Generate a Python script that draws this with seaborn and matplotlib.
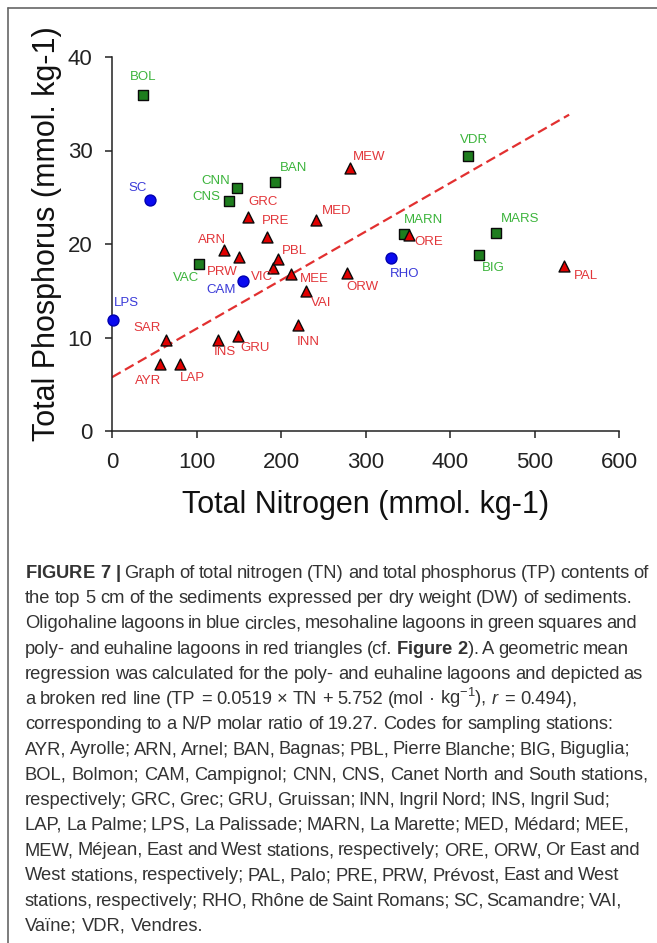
import numpy as np
import pandas as pd
import seaborn as sns
import matplotlib.pyplot as plt
from matplotlib.lines import Line2D

# stations
oligo_names = ['SC', 'LPS', 'CAM', 'RHO']
oligo_tn = [45, 1, 155, 330]
oligo_tp = [24.7, 11.9, 16.0, 18.5]

meso_names = ['BOL', 'CNN', 'CNS', 'BAN', 'VAC', 'VDR', 'MARN', 'MARS', 'BIG']
meso_tn = [37, 148, 138, 193, 103, 421, 345, 454, 434]
meso_tp = [35.9, 26.0, 24.6, 26.6, 17.9, 29.4, 21.1, 21.2, 18.8]

poly_names = ['GRC', 'PRE', 'ARN', 'PRW', 'VIC', 'PBL', 'MEE', 'VAI', 'MED', 'MEW',
              'ORE', 'ORW', 'PAL', 'SAR', 'AYR', 'LAP', 'INS', 'GRU', 'INN']
poly_tn = [161, 183, 133, 150, 190, 196, 212, 230, 242, 282,
           351, 278, 535, 63.5, 57, 80, 126, 149.5, 220]
poly_tp = [22.9, 20.7, 19.4, 18.6, 17.4, 18.4, 16.8, 15.0, 22.6, 28.1,
           21.0, 16.9, 17.6, 9.7, 7.2, 7.2, 9.7, 10.2, 11.3]

# geometric mean regression for poly- and euhaline lagoons
reg_slope = 0.0519
reg_intercept = 5.752
reg_tn = [0, 541]

x_ticks = [0, 100, 200, 300, 400, 500, 600]
y_ticks = [0, 10, 20, 30, 40]

# label offsets in pixels (dx, dy)
label_offsets = {
    'SC': (-12, 12), 'LPS': (14, 17), 'CAM': (-22, -9), 'RHO': (14, -16),
    'BOL': (0, 18), 'CNN': (-21, 7), 'CNS': (-22, 4), 'BAN': (18, 14),
    'VAC': (-13, -14), 'VDR': (6, 16), 'MARN': (20, 14), 'MARS': (24, 14),
    'BIG': (15, -13),
    'GRC': (15, 15), 'PRE': (9, 16), 'ARN': (-12, 10), 'PRW': (-17, -15),
    'VIC': (-11, -9), 'PBL': (17, 8), 'MEE': (23, -5), 'VAI': (15, -12),
    'MED': (20, 9), 'MEW': (19, 11), 'ORE': (20, -7), 'ORW': (16, -14),
    'PAL': (22, -10), 'SAR': (-19, 12), 'AYR': (-12, -17), 'LAP': (13, -14),
    'INS': (6, -12), 'GRU': (17, -12), 'INN': (10, -17),
}

groups = [
    dict(names=oligo_names, tn=oligo_tn, tp=oligo_tp, marker='o', s=62,
         fc='#0a0af0', ec='#0000b0', tc='#3a3ad8'),
    dict(names=meso_names, tn=meso_tn, tp=meso_tp, marker='s', s=44,
         fc='#1e7d1e', ec='#0a0a0a', tc='#3cb43c'),
    dict(names=poly_names, tn=poly_tn, tp=poly_tp, marker='^', s=62,
         fc='#e00000', ec='#0a0a0a', tc='#e2363a'),
]

caption = [
    r'$\mathbf{FIGURE}$ $\mathbf{7}$ $\mathbf{|}$ Graph of total nitrogen (TN) and total phosphorus (TP) contents of',
    'the top 5 cm of the sediments expressed per dry weight (DW) of sediments.',
    'Oligohaline lagoons in blue circles, mesohaline lagoons in green squares and',
    r'poly- and euhaline lagoons in red triangles (cf. $\mathbf{Figure}$ $\mathbf{2}$). A geometric mean',
    'regression was calculated for the poly- and euhaline lagoons and depicted as',
    r'a broken red line (TP = 0.0519 × TN + 5.752 (mol · kg$^{-1}$), $\mathit{r}$ = 0.494),',
    'corresponding to a N/P molar ratio of 19.27. Codes for sampling stations:',
    'AYR, Ayrolle; ARN, Arnel; BAN, Bagnas; PBL, Pierre Blanche; BIG, Biguglia;',
    'BOL, Bolmon; CAM, Campignol; CNN, CNS, Canet North and South stations,',
    'respectively; GRC, Grec; GRU, Gruissan; INN, Ingril Nord; INS, Ingril Sud;',
    'LAP, La Palme; LPS, La Palissade; MARN, La Marette; MED, Médard; MEE,',
    'MEW, Méjean, East and West stations, respectively; ORE, ORW, Or East and',
    'West stations, respectively; PAL, Palo; PRE, PRW, Prévost, East and West',
    'stations, respectively; RHO, Rhône de Saint Romans; SC, Scamandre; VAI,',
    'Vaïne; VDR, Vendres.',
]
# right edge (px) of each caption line in the reference, None = natural
caption_right = [649, 632, 637, 629, 643, 577, 614, 630, 649, 610, 629, 640,
                 619, 620, None]

sns.set_style('ticks')
plt.rcParams['font.family'] = ['Liberation Sans', 'DejaVu Sans']
plt.rcParams['mathtext.fontset'] = 'custom'
plt.rcParams['mathtext.rm'] = 'Liberation Sans'
plt.rcParams['mathtext.it'] = 'Liberation Sans:italic'
plt.rcParams['mathtext.bf'] = 'Liberation Sans:bold'

W, H = 657, 943
fig = plt.figure(figsize=(W / 100, H / 100), dpi=100)
ax = fig.add_axes([112 / W, 1 - 431 / H, 507 / W, 374 / H])

reg = pd.DataFrame({'TN': reg_tn})
reg['TP'] = reg_slope * reg['TN'] + reg_intercept
sns.lineplot(data=reg, x='TN', y='TP', ax=ax, color='#e23030', lw=1.6,
             dashes=False, linestyle=(0, (4.5, 2.2)))

for g in groups:
    df = pd.DataFrame({'name': g['names'], 'TN': g['tn'], 'TP': g['tp']})
    sns.scatterplot(data=df, x='TN', y='TP', ax=ax, marker=g['marker'], s=g['s'],
                    color=g['fc'], edgecolor=g['ec'], linewidth=1.0,
                    clip_on=False, zorder=3, legend=False)
    for _, r in df.iterrows():
        dx, dy = label_offsets[r['name']]
        ax.annotate(r['name'], (r['TN'], r['TP']), xytext=(dx, dy),
                    textcoords='offset pixels', ha='center', va='center',
                    fontsize=9.5, color=g['tc'])

ax.set_xlim(0, 600)
ax.set_ylim(0, 40)
ax.set_xticks(x_ticks)
ax.set_yticks(y_ticks)
sns.despine(ax=ax)
for sp in ['left', 'bottom']:
    ax.spines[sp].set_linewidth(1.1)
    ax.spines[sp].set_color('#222222')
ax.tick_params(length=5, width=1.1, color='#222222', labelsize=16,
               labelcolor='#222222')
ax.tick_params(axis='x', pad=10)
ax.tick_params(axis='y', pad=9)

ax.set_xlabel('Total Nitrogen (mmol. kg-1)', fontsize=22, color='#111111', va='center')
ax.set_ylabel('Total Phosphorus (mmol. kg-1)', fontsize=22, color='#111111', va='center')
ax.xaxis.set_label_coords(0.5, -0.197)
ax.yaxis.set_label_coords(-0.128, 0.527)

# caption, words spread to the reference line widths
renderer = fig.canvas.get_renderer()
cap_size = 13.2
cap_left = 25
probe = fig.text(0, 0, 'a a', fontsize=cap_size)
probe2 = fig.text(0, 0, 'aa', fontsize=cap_size)
space_w = (probe.get_window_extent(renderer).width
           - probe2.get_window_extent(renderer).width)
probe.remove()
probe2.remove()
for i, line in enumerate(caption):
    y = 1 - (578 + 25.2 * i) / H
    words = line.split(' ')
    texts = [fig.text(0, y, w, fontsize=cap_size, color='#333333',
                      ha='left', va='baseline') for w in words]
    widths = [t.get_window_extent(renderer).width for t in texts]
    gap = space_w
    if caption_right[i] is not None and len(words) > 1:
        gap = (caption_right[i] - cap_left - sum(widths)) / (len(words) - 1)
        gap = min(max(gap, space_w * 0.6), space_w * 1.6)
    x = cap_left
    for t, w in zip(texts, widths):
        t.set_x(x / W)
        x += w + gap

# frame of the figure panel
fig.add_artist(Line2D([8 / W, 1], [1 - 8 / H, 1 - 8 / H],
                      transform=fig.transFigure, color='#666666', lw=1.2))
fig.add_artist(Line2D([8 / W, 8 / W], [0, 1 - 8 / H],
                      transform=fig.transFigure, color='#666666', lw=1.2))

fig.savefig('out.png', dpi=100)
